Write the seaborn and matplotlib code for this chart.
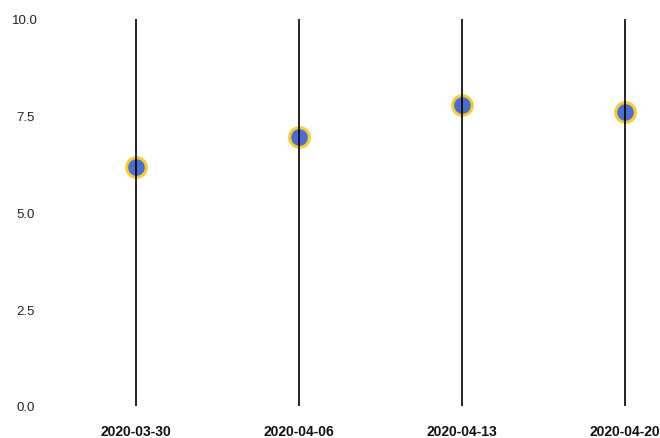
import matplotlib
matplotlib.use("Agg")
import matplotlib.pyplot as plt
import seaborn as sns
import pandas as pd

dates = ["2020-03-30", "2020-04-06", "2020-04-13", "2020-04-20"]
values = [6.18, 6.95, 7.78, 7.6]
y_ticks = [0.0, 2.5, 5.0, 7.5, 10.0]
y_tick_labels = ["0.0", "2.5", "5.0", "7.5", "10.0"]

df = pd.DataFrame({"date": dates, "value": values})

sns.set_style("white")
plt.rcParams["font.family"] = ["Liberation Sans", "DejaVu Sans"]

fig = plt.figure(figsize=(6.6, 4.39), dpi=100)
ax = fig.add_axes([54.5 / 660, 32 / 439, (659 - 54.5) / 660, 387 / 439])

sns.scatterplot(data=df, x="date", y="value", ax=ax, s=200,
                color="#4d6ccb", edgecolor="#f4cb3a", linewidth=2.2, zorder=2)
ax.vlines(df["date"], 0, 10, color="black", linewidth=1.2, zorder=3)

ax.set_xlim(-0.5, 3.21)
ax.set_ylim(0, 10)
ax.set_yticks(y_ticks)
ax.set_yticklabels(y_tick_labels, fontsize=9.5, ha="center", color="#222222")
ax.tick_params(axis="y", length=0, pad=21)
ax.tick_params(axis="x", length=0, pad=13)
for lbl in ax.get_xticklabels():
    lbl.set_fontweight("bold")
    lbl.set_fontsize(10)
    lbl.set_color("#111111")
ax.set_xlabel("")
ax.set_ylabel("")
for sp in ax.spines.values():
    sp.set_visible(False)
ax.grid(False)

fig.savefig("out.png", dpi=100)
